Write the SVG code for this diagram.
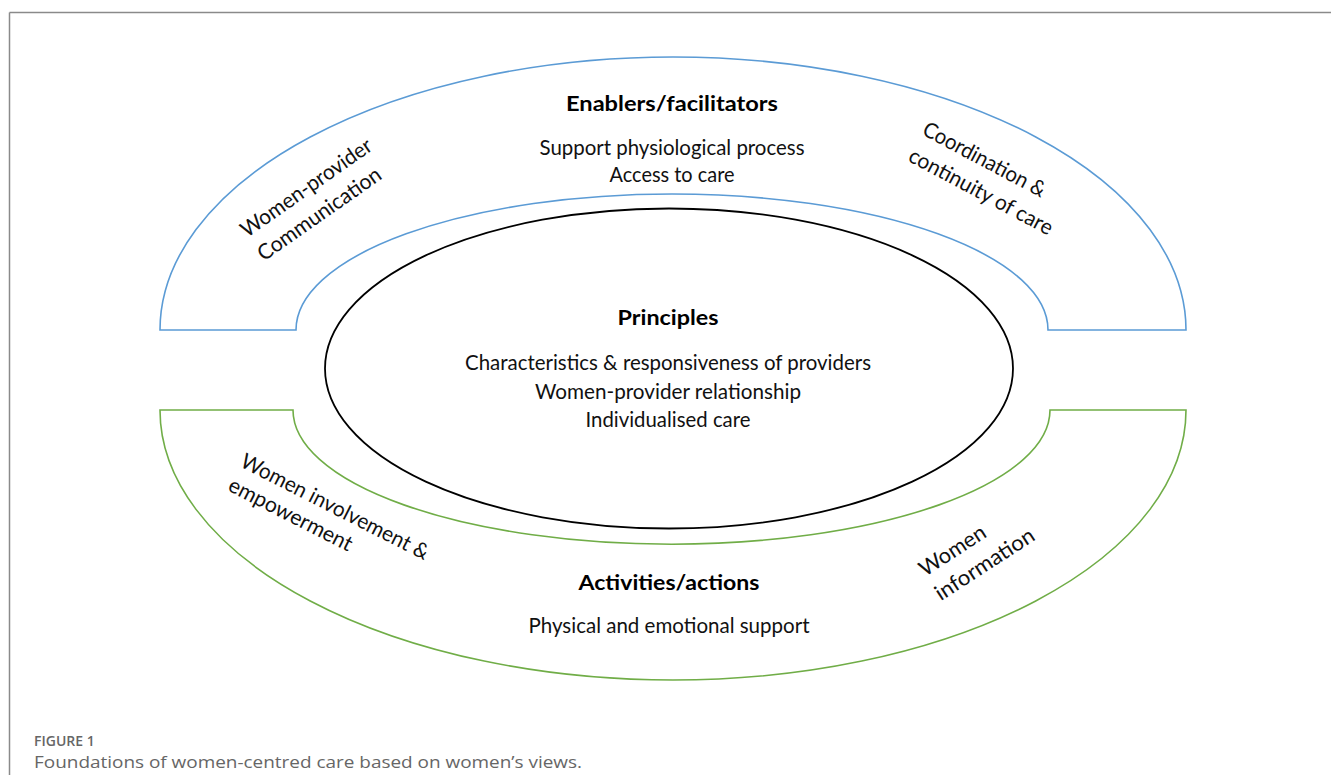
<svg xmlns="http://www.w3.org/2000/svg" width="1331" height="775" viewBox="0 0 1331 775">
  <style>
    .frame { stroke: #8a8a8a; stroke-width: 1.5; fill: none; }
    .blue { stroke: #5B9BD5; stroke-width: 1.6; fill: #ffffff; }
    .green { stroke: #70AD47; stroke-width: 1.6; fill: #ffffff; }
    .core { stroke: #000000; stroke-width: 1.8; fill: #ffffff; }
    .t { font-family: Lato, "Open Sans", sans-serif; font-size: 20.5px; fill: #111111; }
    .r { font-family: Lato, "Open Sans", sans-serif; font-size: 21.5px; fill: #111111; }
    .b { font-family: Lato, "Open Sans", sans-serif; font-size: 21.5px; font-weight: bold; fill: #000000; }
    .c { text-anchor: middle; }
    .figlabel { font-family: "Open Sans", Lato, sans-serif; font-size: 14px; font-weight: 600; fill: #666666; }
    .caption { font-family: "Open Sans", Lato, sans-serif; font-size: 16px; fill: #666666; }
  </style>
  <rect width="1331" height="775" fill="#ffffff"/>
  <g id="frame">
    <line class="frame" x1="9.5" y1="12.5" x2="1331" y2="12.5"/>
    <line class="frame" x1="9.5" y1="12.5" x2="9.5" y2="775"/>
  </g>
  <g id="enablers">
    <path class="blue" d="M160,330 A513,273 0 0 1 1186,330 L1048,330 A376,136 0 0 0 296,330 Z"/>
    <text class="b c" x="672" y="111" textLength="212" lengthAdjust="spacingAndGlyphs">Enablers/facilitators</text>
    <text class="t c" x="672" y="155" textLength="265" lengthAdjust="spacingAndGlyphs">Support physiological process</text>
    <text class="t c" x="672" y="182" textLength="125" lengthAdjust="spacingAndGlyphs">Access to care</text>
    <g transform="translate(247,238) rotate(-35)">
      <text class="r" x="0" y="0" textLength="155" lengthAdjust="spacingAndGlyphs">Women-provider</text>
      <text class="r" x="0" y="29" textLength="146" lengthAdjust="spacingAndGlyphs">Communication</text>
    </g>
    <g transform="translate(921,134) rotate(28)">
      <text class="r" x="0" y="0" textLength="136" lengthAdjust="spacingAndGlyphs">Coordination &amp;</text>
      <text class="r" x="0" y="30" textLength="160" lengthAdjust="spacingAndGlyphs">continuity of care</text>
    </g>
  </g>
  <g id="activities">
    <path class="green" d="M160,410 A513,270 0 0 0 1186,410 L1050,410 A378,134 0 0 1 293,410 Z"/>
    <text class="b c" x="669" y="590" textLength="181" lengthAdjust="spacingAndGlyphs">Activities/actions</text>
    <text class="t c" x="669" y="633" textLength="281" lengthAdjust="spacingAndGlyphs">Physical and emotional support</text>
    <g transform="translate(239,466) rotate(27)">
      <text class="r" x="0" y="0" textLength="208" lengthAdjust="spacingAndGlyphs">Women involvement &amp;</text>
      <text class="r" x="0" y="27" textLength="136" lengthAdjust="spacingAndGlyphs">empowerment</text>
    </g>
    <g transform="translate(925,577) rotate(-33)">
      <text class="r" x="0" y="0" textLength="75" lengthAdjust="spacingAndGlyphs">Women</text>
      <text class="r" x="0" y="29" textLength="114" lengthAdjust="spacingAndGlyphs">information</text>
    </g>
  </g>
  <g id="principles">
    <ellipse class="core" cx="669" cy="368.5" rx="344" ry="160"/>
    <text class="b c" x="668" y="325" textLength="101" lengthAdjust="spacingAndGlyphs">Principles</text>
    <text class="t c" x="668" y="370" textLength="406" lengthAdjust="spacingAndGlyphs">Characteristics &amp; responsiveness of providers</text>
    <text class="t c" x="668" y="399" textLength="266" lengthAdjust="spacingAndGlyphs">Women-provider relationship</text>
    <text class="t c" x="668" y="427" textLength="165" lengthAdjust="spacingAndGlyphs">Individualised care</text>
  </g>
  <g id="connectors"></g>
  <g id="caption">
    <text class="figlabel" x="34" y="746">FIGURE 1</text>
    <text class="caption" x="34" y="768" textLength="548" lengthAdjust="spacingAndGlyphs">Foundations of women-centred care based on women’s views.</text>
  </g>
</svg>
